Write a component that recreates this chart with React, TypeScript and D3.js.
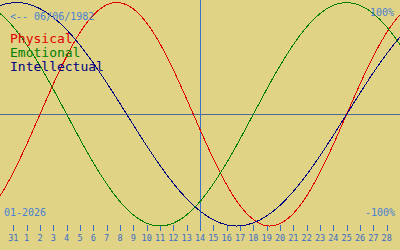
import React from "react";
import * as d3 from "d3";

// day index 0 = 30 Dec 2025 ... index 30 = 29 Jan 2026 (extra points at -1 and 31)
const dayIndex = [-1, 0, 1, 2, 3, 4, 5, 6, 7, 8, 9, 10, 11, 12, 13, 14, 15, 16, 17, 18, 19, 20, 21, 22, 23, 24, 25, 26, 27, 28, 29, 30, 31];
const physical = [-0.888, -0.731, -0.52, -0.27, 0, 0.27, 0.52, 0.731, 0.888, 0.979, 0.998, 0.942, 0.817, 0.631, 0.398, 0.136, -0.136, -0.398, -0.631, -0.817, -0.942, -0.998, -0.979, -0.888, -0.731, -0.52, -0.27, 0, 0.27, 0.52, 0.731, 0.888, 0.979];
const emotional = [0.975, 0.901, 0.782, 0.623, 0.434, 0.223, 0, -0.223, -0.434, -0.623, -0.782, -0.901, -0.975, -1, -0.975, -0.901, -0.782, -0.623, -0.434, -0.223, 0, 0.223, 0.434, 0.623, 0.782, 0.901, 0.975, 1, 0.975, 0.901, 0.782, 0.623, 0.434];
const intellectual = [0.91, 0.972, 0.999, 0.99, 0.945, 0.866, 0.756, 0.618, 0.458, 0.282, 0.095, -0.095, -0.282, -0.458, -0.618, -0.756, -0.866, -0.945, -0.99, -0.999, -0.972, -0.91, -0.815, -0.69, -0.541, -0.372, -0.189, 0, 0.189, 0.372, 0.541, 0.69, 0.815];
const tickIndex = [1, 2, 3, 4, 5, 6, 7, 8, 9, 10, 11, 12, 13, 14, 15, 16, 17, 18, 19, 20, 21, 22, 23, 24, 25, 26, 27, 28, 29];
const tickLabels = ["31", "1", "2", "3", "4", "5", "6", "7", "8", "9", "10", "11", "12", "13", "14", "15", "16", "17", "18", "19", "20", "21", "22", "23", "24", "25", "26", "27", "28"];
const todayIndex = 15;
const seriesNames = ["Physical", "Emotional", "Intellectual"];
const birthLabel = "<-- 06/06/1982";
const monthLabel = "01-2026";
const topLabel = "100%";
const bottomLabel = "-100%";

const W = 400;
const H = 250;
const colors = ["#e00000", "#008000", "#000080"];
const font = "'DejaVu Sans Mono', monospace";

export default function App() {
  const x = d3.scaleLinear().domain([0, 30]).range([0, W]);
  const y = d3.scaleLinear().domain([-1, 1]).range([226, 2.5]);
  const series = [physical, emotional, intellectual];
  const line = (vals: number[]) =>
    d3
      .line<number>()
      .x((_, i) => x(dayIndex[i]))
      .y((v) => y(v))
      .curve(d3.curveNatural)(vals) || "";
  const mid = Math.round(y(0)) + 0.5;
  const todayX = Math.round(x(todayIndex)) + 0.5;
  return (
    <svg
      width={W}
      height={H}
      style={{ position: "fixed", left: 0, top: 0, background: "#e0d386" }}
    >
      <rect x={0} y={0} width={W} height={H} fill="#e0d386" />
      <line x1={0} x2={W} y1={mid} y2={mid} stroke="#4e6a92" strokeWidth={1} />
      <line x1={todayX} x2={todayX} y1={0} y2={231} stroke="#3a72d0" strokeWidth={1} />
      {tickIndex.map((t, i) => {
        const tx = Math.round(x(t)) + 0.5;
        return (
          <g key={t}>
            <line x1={tx} x2={tx} y1={225} y2={231} stroke="#3a6cc4" strokeWidth={1} />
            <text
              x={x(t)}
              y={241}
              fill="#3a6cc4"
              fontSize={8.5}
              fontFamily={font}
              textAnchor="middle"
            >
              {tickLabels[i]}
            </text>
          </g>
        );
      })}
      {series.map((s, i) => (
        <path
          key={i}
          d={line(s)}
          fill="none"
          stroke={colors[i]}
          strokeWidth={1}
          shapeRendering="crispEdges"
        />
      ))}
      <text x={10} y={19.5} fill="#4a80d0" fontSize={10} fontFamily={font}>
        {birthLabel}
      </text>
      <text x={394} y={16} fill="#4a80d0" fontSize={10} fontFamily={font} textAnchor="end">
        {topLabel}
      </text>
      <text x={395} y={216} fill="#4a80d0" fontSize={10} fontFamily={font} textAnchor="end">
        {bottomLabel}
      </text>
      <text x={4} y={216} fill="#4a80d0" fontSize={10} fontFamily={font}>
        {monthLabel}
      </text>
      {seriesNames.map((n, i) => (
        <text key={n} x={10} y={43 + i * 14} fill={colors[i]} fontSize={13} fontFamily={font}>
          {n}
        </text>
      ))}
    </svg>
  );
}
